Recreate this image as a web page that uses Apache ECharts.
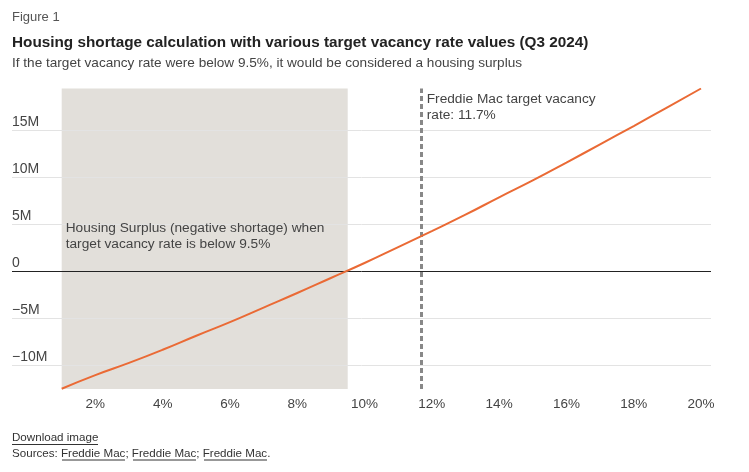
<!DOCTYPE html>
<html><head><meta charset="utf-8">
<script src="https://cdn.jsdelivr.net/npm/echarts@6/dist/echarts.min.js"></script>
<style>html,body{margin:0;padding:0;background:#fff}#c{width:749px;height:472px}</style>
</head><body><div id="c"></div>
<script>
// Target vacancy rate (%)
const vacancyRates = [1,2,3,4,5,6,7,8,9,10,11,12,13,14,15,16,17,18,19,20];
// Housing shortage (millions of units)
const shortageM = [-12.55,-11.1,-9.8,-8.4,-6.9,-5.45,-3.9,-2.35,-0.75,0.85,2.55,4.25,6.0,7.85,9.65,11.55,13.5,15.45,17.45,19.45];
const xTicks = [2,4,6,8,10,12,14,16,18,20];
const yTicks = [-10,-5,0,5,10,15];
const surplusRange = [1, 9.5];
const freddieTarget = 11.7;

const FONT = '"Liberation Sans", Arial, sans-serif';
const chart = echarts.init(document.getElementById('c'), null, {renderer:'canvas'});
const fmtY = v => v === 0 ? '0' : (v < 0 ? '\u2212' + Math.abs(v) + 'M' : v + 'M');

const ul = (x1, x2, y) => ({type:'line', silent:true, shape:{x1:x1, y1:y, x2:x2, y2:y}, style:{stroke:'#333', lineWidth:1}});

chart.setOption({
  animation:false,
  textStyle:{fontFamily:FONT},
  title:[
    {text:'Figure 1', left:12, top:11, padding:0, textStyle:{fontFamily:FONT, fontSize:13, fontWeight:'normal', color:'#555'}},
    {text:'Housing shortage calculation with various target vacancy rate values (Q3 2024)', left:12, top:35, padding:0,
     textStyle:{fontFamily:FONT, fontSize:15.3, fontWeight:'bold', color:'#222'}},
    {text:'If the target vacancy rate were below 9.5%, it would be considered a housing surplus', left:12, top:56, padding:0,
     textStyle:{fontFamily:FONT, fontSize:13.6, fontWeight:'normal', color:'#444'}}
  ],
  grid:{left:12, right:38, top:88.5, bottom:83, containLabel:false},
  xAxis:{type:'value', min:-0.477, max:20.297,
    axisLine:{show:false}, axisTick:{show:false}, splitLine:{show:false},
    axisLabel:{customValues:xTicks, formatter:v=>v+'%', color:'#444', fontSize:13.5, margin:8, fontFamily:FONT}},
  yAxis:{type:'value', min:-12.58, max:19.45,
    axisLine:{show:false}, axisTick:{show:false}, splitLine:{show:false},
    axisLabel:{customValues:yTicks, inside:true, formatter:fmtY, color:'#444', fontSize:14, margin:0,
      verticalAlign:'bottom', align:'left', padding:[0,0,1,0], fontFamily:FONT}},
  series:[
    {type:'line', data:[], z:1, silent:true,
     markArea:{silent:true, itemStyle:{color:'#e2dfda'}, label:{show:false},
       data:[[{xAxis:surplusRange[0]},{xAxis:surplusRange[1]}]]}},
    {type:'line', data:[], z:2, silent:true,
     markLine:{silent:true, symbol:'none', label:{show:false},
       data:yTicks.filter(v=>v!==0).map(v=>({yAxis:v, lineStyle:{color:'#e3e3e3', width:1, type:'solid'}}))
         .concat([{yAxis:0, lineStyle:{color:'#222', width:1, type:'solid'}}])}},
    {type:'line', data:[], z:3, silent:true,
     markLine:{silent:true, symbol:'none',
       lineStyle:{color:'#888', width:3, type:[5,3]},
       label:{show:false},
       data:[{xAxis:freddieTarget}]},
     markPoint:{silent:true, symbol:'circle', symbolSize:0,
       label:{show:true, position:'inside', formatter:'Freddie Mac target vacancy\nrate: 11.7%',
         color:'#444', fontSize:13.7, lineHeight:16, fontFamily:FONT, align:'left', verticalAlign:'top', offset:[5,3]},
       data:[{coord:[freddieTarget, 19.45]}]}},
    {type:'line', data:[], z:4, silent:true,
     markPoint:{silent:true, symbol:'circle', symbolSize:0,
       label:{show:true, position:'inside', formatter:'Housing Surplus (negative shortage) when\ntarget vacancy rate is below 9.5%',
         color:'#444', fontSize:13.7, lineHeight:16, fontFamily:FONT, align:'left', verticalAlign:'bottom', offset:[4,-19]},
       data:[{coord:[surplusRange[0], 0]}]}},
    {type:'line', z:5, data:vacancyRates.map((x,i)=>[x, shortageM[i]]), smooth:true, showSymbol:false,
     lineStyle:{color:'#ea6a35', width:2}}
  ],
  graphic:[
    {type:'text', left:12, top:432, style:{text:'Download image', fill:'#333', font:'11.6px '+FONT}},
    {type:'text', left:12, top:448, style:{text:'Sources: Freddie Mac; Freddie Mac; Freddie Mac.', fill:'#333', font:'11.6px '+FONT}},
    ul(12, 98, 444.5), ul(62, 125, 460), ul(133, 196, 460), ul(204, 267, 460)
  ]
});
</script></body></html>
